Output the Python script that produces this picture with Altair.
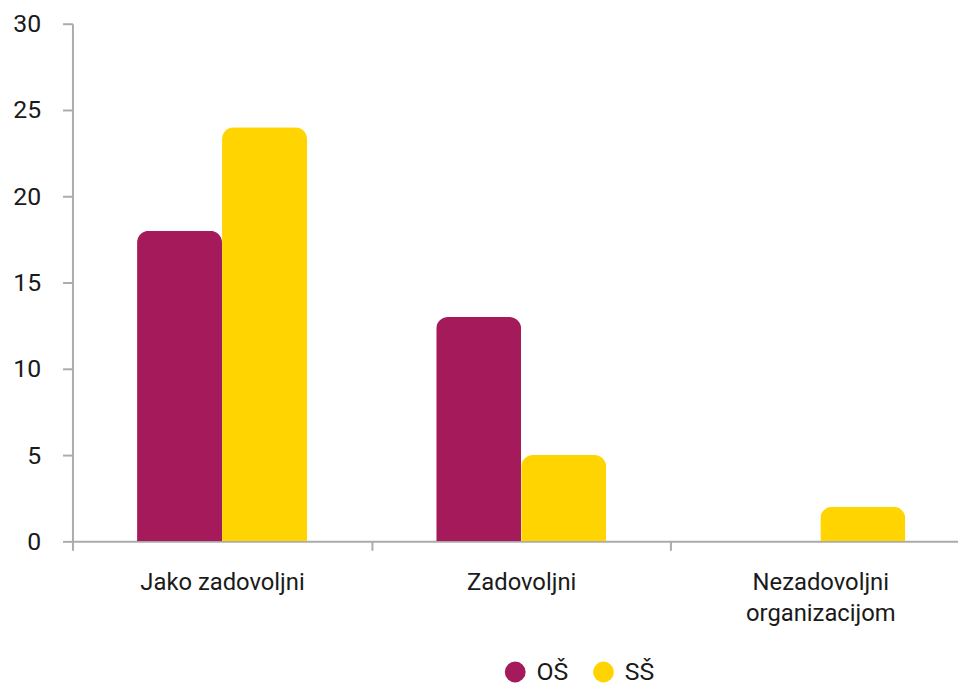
import altair as alt
import pandas as pd

categories = ["Jako zadovoljni", "Zadovoljni", "Nezadovoljni organizacijom"]
series = ["OŠ", "SŠ"]
values_os = [18, 13, 0]
values_ss = [24, 5, 2]
colors = ["#A41A5B", "#FFD400"]

rows = []
for c, a, b in zip(categories, values_os, values_ss):
    rows.append({"kategorija": c, "skupina": series[0], "vrijednost": a})
    rows.append({"kategorija": c, "skupina": series[1], "vrijednost": b})
df = pd.DataFrame(rows)

FONT = "Roboto, sans-serif"
GRAY = "#ababab"

label_expr = (
    "isString(datum.label) && length(datum.label) > 15 "
    "? split(datum.label, ' ') : datum.label"
)

chart = alt.Chart(df).mark_bar(
    cornerRadiusTopLeft=12, cornerRadiusTopRight=12
).encode(
    x=alt.X(
        "kategorija:N",
        sort=categories,
        scale=alt.Scale(paddingInner=0, paddingOuter=0, range=[0, 905]),
        axis=alt.Axis(
            title=None,
            labelAngle=0,
            tickBand="extent",
            labelExpr=label_expr,
            labelFont=FONT,
            labelFontSize=24,
            labelColor="#1a1a1a",
            labelLineHeight=31,
            labelPadding=21,
            labelBaseline="top",
            domainColor=GRAY,
            domainWidth=2,
            tickColor=GRAY,
            tickWidth=2,
            tickSize=9,
        ),
    ),
    xOffset=alt.XOffset(
        "skupina:N",
        sort=series,
        scale=alt.Scale(paddingInner=0, paddingOuter=0.76),
    ),
    y=alt.Y(
        "vrijednost:Q",
        scale=alt.Scale(domain=[0, 30], nice=False),
        axis=alt.Axis(
            title=None,
            values=[0, 5, 10, 15, 20, 25, 30],
            grid=False,
            labelFont=FONT,
            labelFontSize=25,
            labelColor="#1a1a1a",
            labelPadding=22,
            domainColor=GRAY,
            domainWidth=2,
            tickColor=GRAY,
            tickWidth=2,
            tickSize=10,
        ),
    ),
    color=alt.Color(
        "skupina:N",
        sort=series,
        scale=alt.Scale(domain=series, range=colors),
        legend=alt.Legend(
            title=None,
            orient="none",
            legendX=434,
            legendY=641,
            direction="horizontal",
            symbolType="circle",
            symbolSize=441,
            symbolStrokeWidth=0,
            labelFont=FONT,
            labelFontSize=25,
            labelColor="#1a1a1a",
            labelOffset=9,
            columnPadding=22,
            padding=0,
        ),
    ),
).properties(
    width=893,
    height=522,
    autosize=alt.AutoSizeParams(type="none"),
    padding={"left": 65, "top": 13, "right": 0, "bottom": 142},
).configure_view(stroke=None)

chart.save("out.html", embed_options={"renderer": "svg", "actions": False})
